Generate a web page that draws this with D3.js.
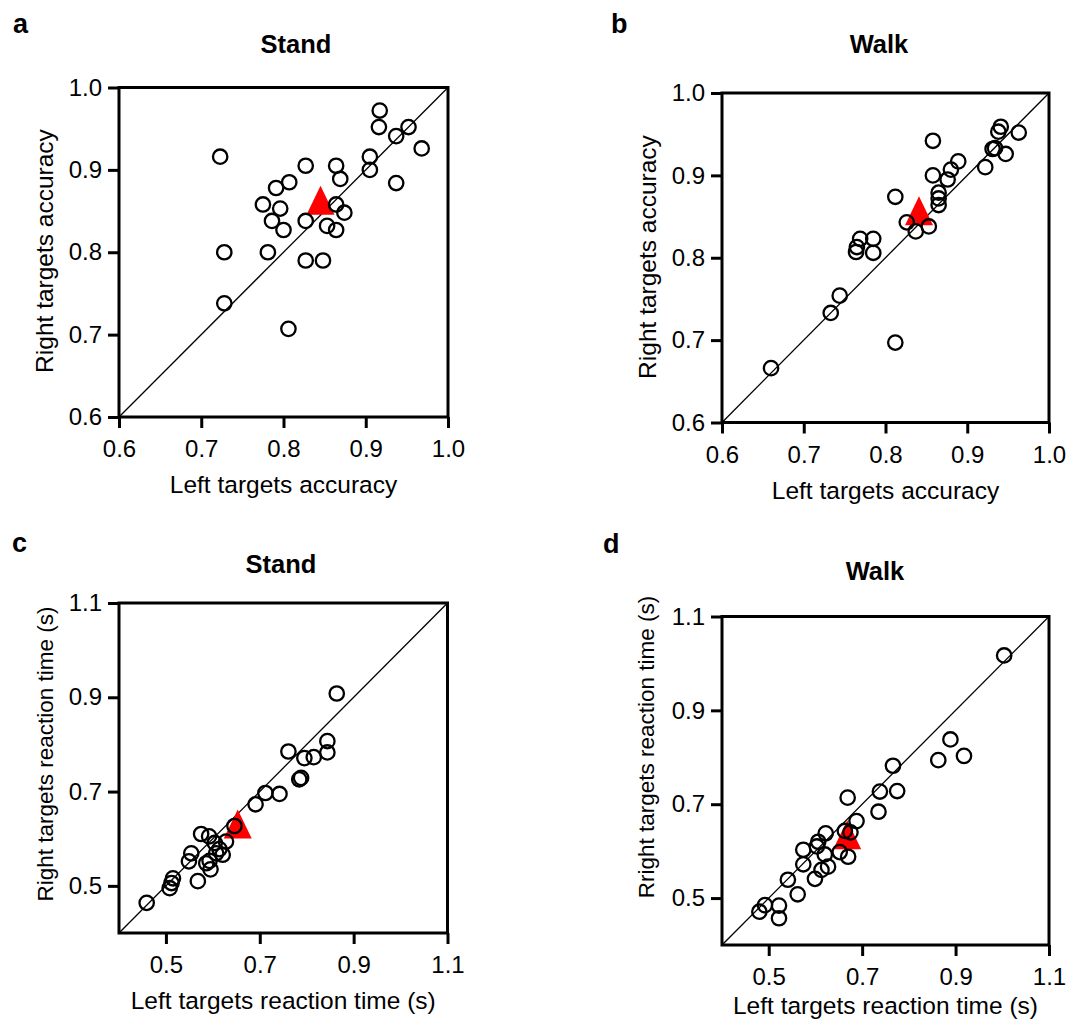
<!DOCTYPE html>
<html><head><meta charset="utf-8">
<script src="https://cdn.jsdelivr.net/npm/d3@7"></script>
<style>
body{margin:0;background:#fff}
svg text{font-family:"Liberation Sans",Arial,Helvetica,sans-serif;fill:#000}
</style>
</head><body><svg id="chart" width="1069" height="1028"></svg>
<script>
// ---------- data ----------
const accTicks = [0.6, 0.7, 0.8, 0.9, 1.0];
const rtTicks = [0.5, 0.7, 0.9, 1.1];
const accDomain = [0.6, 1.0];
const rtDomain = [0.4, 1.1];

const standAccLeft  = [0.917,0.916,0.952,0.937,0.968,0.723,0.905,0.905,0.827,0.864,0.869,0.937,0.807,0.791,0.775,0.796,0.864,0.874,0.786,0.827,0.800,0.853,0.864,0.728,0.781,0.827,0.848,0.728,0.806];
const standAccRight = [0.972,0.952,0.952,0.941,0.926,0.916,0.916,0.900,0.905,0.905,0.889,0.884,0.885,0.878,0.858,0.853,0.858,0.848,0.838,0.838,0.827,0.832,0.827,0.800,0.800,0.790,0.790,0.738,0.707];
const standAccMean  = [0.845, 0.863];

const walkAccLeft  = [0.941,0.938,0.963,0.858,0.934,0.931,0.947,0.889,0.880,0.922,0.858,0.876,0.865,0.865,0.865,0.812,0.826,0.837,0.853,0.769,0.785,0.765,0.764,0.785,0.744,0.733,0.812,0.660];
const walkAccRight = [0.959,0.953,0.952,0.942,0.933,0.932,0.926,0.917,0.907,0.910,0.900,0.895,0.879,0.872,0.864,0.874,0.843,0.832,0.838,0.823,0.823,0.813,0.807,0.806,0.754,0.733,0.697,0.666];
const walkAccMean  = [0.841, 0.857];

const standRTLeft  = [0.864,0.844,0.844,0.761,0.795,0.815,0.784,0.788,0.742,0.712,0.691,0.646,0.628,0.575,0.592,0.604,0.614,0.621,0.554,0.549,0.593,0.595,0.568,0.515,0.512,0.508,0.459,0.607,0.586];
const standRTRight = [0.908,0.807,0.783,0.785,0.771,0.773,0.726,0.729,0.695,0.697,0.673,0.627,0.594,0.610,0.605,0.591,0.578,0.566,0.569,0.552,0.553,0.535,0.510,0.516,0.506,0.495,0.464,0.569,0.548];
const standRTMean  = [0.653, 0.631];

const walkRTLeft  = [1.004,0.889,0.863,0.918,0.766,0.738,0.775,0.669,0.735,0.688,0.663,0.675,0.622,0.606,0.603,0.574,0.620,0.652,0.670,0.574,0.627,0.613,0.599,0.541,0.562,0.492,0.480,0.522,0.522];
const walkRTRight = [1.017,0.838,0.794,0.803,0.782,0.727,0.728,0.714,0.684,0.664,0.643,0.640,0.638,0.620,0.610,0.603,0.593,0.598,0.588,0.572,0.567,0.560,0.541,0.539,0.508,0.485,0.471,0.484,0.457];
const walkRTMean  = [0.668, 0.635];

const panelLetters = ["a", "b", "c", "d"];
const panelTitles = ["Stand", "Walk", "Stand", "Walk"];
const xTitles = ["Left targets accuracy", "Left targets accuracy", "Left targets reaction time (s)", "Left targets reaction time (s)"];
const yTitles = ["Right targets accuracy", "Right targets accuracy", "Right targets reaction time (s)", "Rright targets reaction time (s)"];

// ---------- layout ----------
const panels = [
  {xs: standAccLeft, ys: standAccRight, mean: standAccMean, domain: accDomain, ticks: accTicks,
   x0:119, x1:448, y0:87.5, y1:417, letter:[13,33], title:[296,53], xTitleY:493, yTitleX:53, yTitleY:251, yFs:24.5},
  {xs: walkAccLeft, ys: walkAccRight, mean: walkAccMean, domain: accDomain, ticks: accTicks,
   x0:722, x1:1049, y0:93, y1:422.5, letter:[611,33], title:[879,53], xTitleY:499, yTitleX:656, yTitleY:257, yFs:24.5},
  {xs: standRTLeft, ys: standRTRight, mean: standRTMean, domain: rtDomain, ticks: rtTicks,
   x0:119, x1:447.5, y0:603, y1:933, letter:[12,552], title:[281,573], xTitleY:1009, yTitleX:53, yTitleY:754, yFs:22.5},
  {xs: walkRTLeft, ys: walkRTRight, mean: walkRTMean, domain: rtDomain, ticks: rtTicks,
   x0:722, x1:1049, y0:616.5, y1:945, letter:[603,553], title:[875,580], xTitleY:1014, yTitleX:654, yTitleY:747, yFs:22.5}
];

const svg = d3.select("#chart");
const fmt = d3.format(".1f");

panels.forEach((p, i) => {
  const g = svg.append("g");
  const x = d3.scaleLinear().domain(p.domain).range([p.x0, p.x1]);
  const y = d3.scaleLinear().domain(p.domain).range([p.y1, p.y0]);

  // identity line
  g.append("line")
    .attr("x1", x(p.domain[0])).attr("y1", y(p.domain[0]))
    .attr("x2", x(p.domain[1])).attr("y2", y(p.domain[1]))
    .attr("stroke", "#000").attr("stroke-width", 1.3);

  // mean triangle (under circles)
  const tw = 28, th = 29;
  const mx = x(p.mean[0]), my = y(p.mean[1]);
  g.append("path")
    .attr("d", `M${mx},${my - th/2}L${mx + tw/2},${my + th/2}L${mx - tw/2},${my + th/2}Z`)
    .attr("fill", "#ff0000");

  // subject circles
  g.selectAll("circle.pt").data(p.xs.map((v, k) => [v, p.ys[k]])).join("circle")
    .attr("class", "pt")
    .attr("cx", d => x(d[0])).attr("cy", d => y(d[1])).attr("r", 7.2)
    .attr("fill", "none").attr("stroke", "#000").attr("stroke-width", 2.3);

  // axes
  const xa = g.append("g").attr("transform", `translate(0,${p.y1})`)
    .call(d3.axisBottom(x).tickValues(p.ticks).tickFormat(fmt).tickSize(11).tickSizeOuter(0).tickPadding(12));
  const ya = g.append("g").attr("transform", `translate(${p.x0},0)`)
    .call(d3.axisLeft(y).tickValues(p.ticks).tickFormat(fmt).tickSize(11).tickSizeOuter(0).tickPadding(6));
  [xa, ya].forEach(a => {
    a.select(".domain").remove();
    a.selectAll(".tick line").attr("stroke", "#000").attr("stroke-width", 3);
    a.selectAll(".tick text").attr("font-size", 24).attr("fill", "#000")
      .style("font-family", '"Liberation Sans",Arial,sans-serif');
  });

  // frame
  g.append("rect")
    .attr("x", p.x0).attr("y", p.y0)
    .attr("width", p.x1 - p.x0).attr("height", p.y1 - p.y0)
    .attr("fill", "none").attr("stroke", "#000").attr("stroke-width", 3);

  // texts
  g.append("text").attr("x", p.letter[0]).attr("y", p.letter[1])
    .attr("font-size", 27).attr("font-weight", "bold").text(panelLetters[i]);
  g.append("text").attr("x", p.title[0]).attr("y", p.title[1])
    .attr("text-anchor", "middle").attr("font-size", 25.5).attr("font-weight", "bold").text(panelTitles[i]);
  g.append("text").attr("x", (p.x0 + p.x1) / 2).attr("y", p.xTitleY)
    .attr("text-anchor", "middle").attr("font-size", 24.5).text(xTitles[i]);
  g.append("text")
    .attr("transform", `translate(${p.yTitleX},${p.yTitleY}) rotate(-90)`)
    .attr("text-anchor", "middle").attr("font-size", p.yFs).text(yTitles[i]);
});
</script>
</body></html>
